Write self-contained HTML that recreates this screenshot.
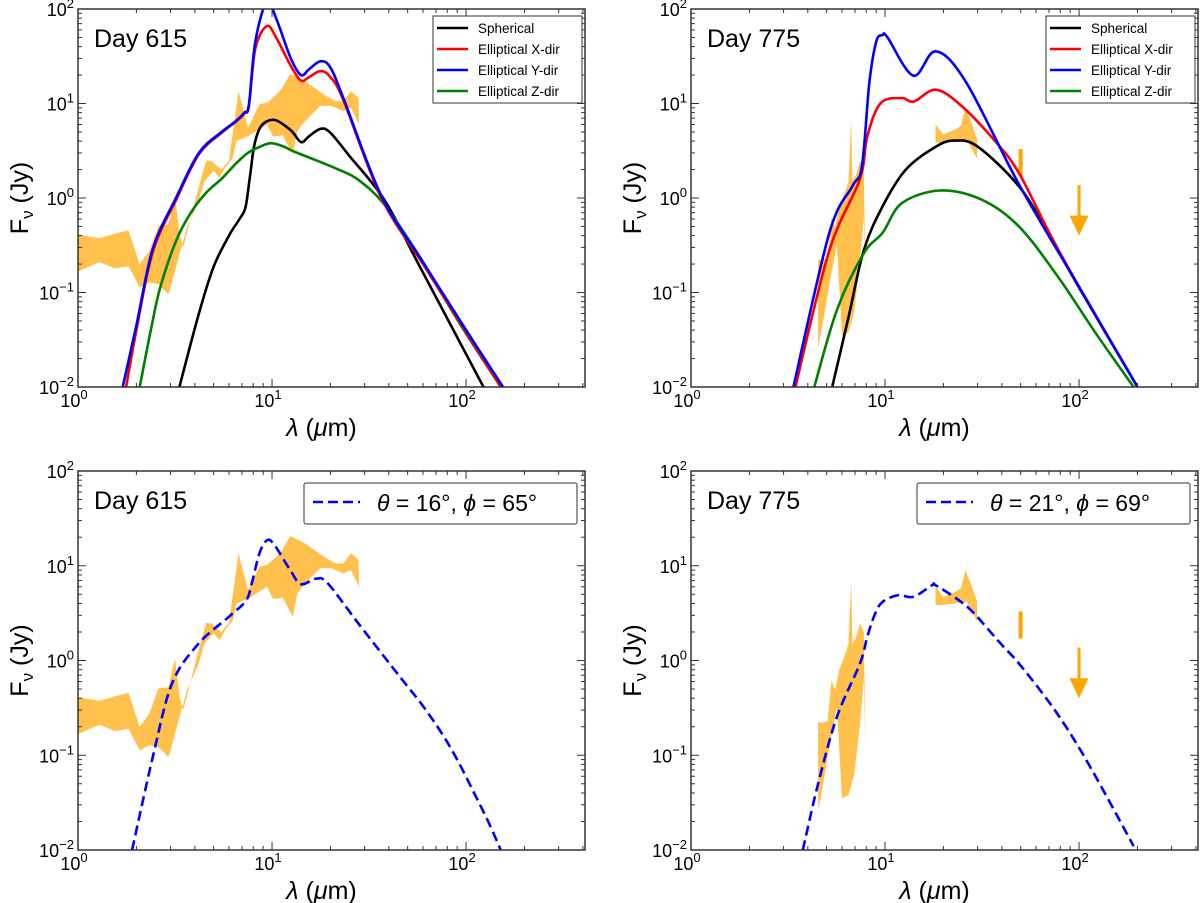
<!DOCTYPE html>
<html><head><meta charset="utf-8">
<style>
html,body{margin:0;padding:0;background:#fff;}
svg{display:block;font-family:"Liberation Sans","DejaVu Sans",sans-serif;}
</style></head>
<body>
<svg id="fig" width="1200" height="903" viewBox="0 0 1200 903" xmlns="http://www.w3.org/2000/svg"></svg>
<script>
// ---------- DATA (λ in μm, Fν in Jy) ----------
// Day 615 models
const d615SphLam  = [3.33,4.2,5.0,6.0,6.8,7.3,7.7,8.1,8.8,10.3,12.5,14.1,15.5,17.8,20,25,38,57.6,123];
const d615SphFlux = [0.01,0.06,0.187,0.4,0.6,0.8,1.7,3.6,5.8,6.7,5.2,3.9,4.5,5.4,4.9,2.8,0.95,0.19,0.01];
const d615XLam  = [1.77,2.0,2.43,3.2,4.2,5.5,6.5,7.2,7.6,8.2,9.4,10.5,12.5,14.1,15.5,17.8,20,23.3,36.6,60,100,151];
const d615XFlux = [0.01,0.04,0.27,0.95,2.9,4.9,6.4,7.8,9.5,38,66,50,25,17.5,19,22,19,10.9,1.0,0.2,0.038,0.01];
const d615YLam  = [1.7,2.0,2.43,3.2,4.2,5.5,6.5,7.2,7.6,8.2,9.4,10.5,12.5,14.1,15.5,17.8,20,23.3,36.6,60,100,155];
const d615YFlux = [0.01,0.045,0.29,1.0,3.0,5.0,6.5,8.0,9.7,45,120,80,30,20,23,28,24,11.5,1.05,0.21,0.04,0.01];
const d615ZLam  = [2.08,2.4,2.66,3.2,3.8,4.6,5.5,6.5,7.5,8.7,9.9,11.5,13,17.8,22,27.8,38,57.6,91,151];
const d615ZFlux = [0.01,0.045,0.115,0.35,0.69,1.15,1.6,2.3,3.0,3.5,3.8,3.5,3.1,2.4,2.0,1.56,0.85,0.24,0.05,0.01];
// Day 615 observed band (upper edge then lower edge back)
const band615Lam  = [1.0,1.29,1.55,1.82,2.08,2.33,2.6,2.92,3.16,3.34,3.49,4.19,4.58,4.9,5.48,6.0,6.72,7.52,8.61,9.43,10.3,11.3,12.4,14.8,18.6,21.2,23.3,25.5,27.9,28.1,
                     25.5,23.3,20.3,17.7,14.8,13.5,12.8,11.3,11.0,10.7,10.1,9.43,7.52,6.57,6.28,5.74,5.36,5.01,4.48,4.19,3.65,3.34,3.0,2.92,2.6,2.33,2.08,1.82,1.55,1.29,1.0];
const band615Flux = [0.41,0.375,0.42,0.455,0.2,0.275,0.51,0.52,1.05,0.41,0.3,1.29,2.5,2.45,2.0,2.5,13.5,5.5,9.8,10.2,11.9,14.6,20.6,17.2,12.4,10.6,10.6,13.5,11.5,6.0,
                     9.0,8.3,9.4,9.4,6.5,5.1,2.9,4.7,4.5,4.5,4.5,6.0,4.5,4.0,2.67,2.1,1.64,1.93,1.51,0.93,0.49,0.254,0.113,0.096,0.122,0.128,0.113,0.19,0.18,0.21,0.167];
// Day 615 best-fit
const fit615Lam  = [1.9,2.43,3.05,4.19,6.0,7.35,7.86,8.61,9.43,10.3,12.4,14.1,16.9,19.4,27.9,45.7,60,75,90,110,130,151];
const fit615Flux = [0.01,0.096,0.57,1.51,2.9,4.3,6.5,13.5,18.6,16.5,9.0,6.4,7.3,6.5,2.45,0.67,0.33,0.17,0.09,0.04,0.02,0.01];

// Day 775 models
const d775SphLam  = [5.34,6.5,7.77,9.73,12.8,18.3,22.9,30,49,70.6,102,200];
const d775SphFlux = [0.01,0.056,0.28,0.82,2.0,3.5,4.05,3.5,1.33,0.4,0.105,0.01];
const d775XLam  = [3.45,5.17,7.4,8.1,9.5,12.2,14.1,18.3,25,37.7,49,70.6,102,200];
const d775XFlux = [0.01,0.28,1.56,4.5,10.1,11.4,10.5,14,9.3,3.8,1.84,0.42,0.107,0.01];
const d775YLam  = [3.37,5.17,6.78,7.6,8.3,9.0,9.7,10.3,14,18.3,26.3,49,102,200];
const d775YFlux = [0.01,0.43,1.33,2.16,16.5,45,53,50,19.7,35.7,16.5,1.4,0.107,0.01];
const d775ZLam  = [4.32,5.66,7.77,9.73,12.2,19.2,31.5,49,77.6,122,191];
const d775ZFlux = [0.01,0.066,0.26,0.43,0.88,1.2,0.96,0.5,0.148,0.037,0.01];
// Day 775 observed bands
const band775aLam  = [4.52,4.73,5.06,5.3,5.53,5.79,6.06,6.34,6.48,6.69,6.8,7.1,7.43,7.77,7.94,7.77,7.43,6.94,6.48,6.0,5.65,5.17,4.87,4.52];
const band775aFlux = [0.225,0.22,0.23,0.62,0.49,0.79,1.0,1.29,1.51,6.8,1.5,1.78,2.46,2.0,0.108,0.62,0.216,0.062,0.038,0.035,0.32,0.123,0.059,0.026];
const band775bLam  = [18.2,20,23,24.6,26,28.1,29.8,29.8,26.3,23,20,18.2];
const band775bFlux = [6.0,4.7,5.3,5.8,9.0,6.0,4.2,2.6,4.2,4.0,3.85,3.85];
const errBarLam = [50];
const errBarLo  = [1.7];
const errBarHi  = [3.3];
const upperLimLam  = [100];
const upperLimFlux = [1.37];
const upperLimTip  = [0.4];
// Day 775 best-fit
const fit775Lam  = [3.77,4.52,5.65,7.43,8.1,8.9,9.73,11.7,14,17.5,18.2,24,28.8,39.4,49,71,97,133,191];
const fit775Flux = [0.01,0.05,0.254,0.93,1.78,3.13,4.17,4.9,4.7,6.25,6.25,4.33,3.13,1.51,0.93,0.35,0.133,0.043,0.011];

// axis tick labels
const xTickExp = [0,1,2];
const yTickExp = [-2,-1,0,1,2];
const xMaxLog = 2.613;

// ---------- DRAWING ----------
const NS = "http://www.w3.org/2000/svg";
const svg = document.getElementById('fig');
function el(tag, parent){ const e=document.createElementNS(NS,tag); (parent||svg).appendChild(e); return e; }
function setA(e, o){ for(const k in o) e.setAttribute(k,o[k]); return e; }

const panels = [
  {x0:78,x1:585,y0:9,y1:387,name:'day615-models'},
  {x0:691,x1:1198,y0:9,y1:387,name:'day775-models'},
  {x0:78,x1:585,y0:471,y1:850,name:'day615-fit'},
  {x0:691,x1:1198,y0:471,y1:850,name:'day775-fit'}
];
panels.forEach((p,i)=>{
  p.sx = v => p.x0 + Math.log10(v)/xMaxLog*(p.x1-p.x0);
  p.sy = v => p.y1 - (Math.log10(v)+2)/4*(p.y1-p.y0);
  p.clip = 'clip'+i;
});

const defs = el('defs');
panels.forEach(p=>{
  const cp = el('clipPath',defs); cp.setAttribute('id',p.clip);
  const r = el('rect',cp); setA(r,{x:p.x0,y:p.y0,width:p.x1-p.x0,height:p.y1-p.y0});
});

function smoothPath(P){
  let d = 'M'+P[0][0].toFixed(1)+','+P[0][1].toFixed(1);
  for(let i=0;i<P.length-1;i++){
    const p0=P[Math.max(0,i-1)], p1=P[i], p2=P[i+1], p3=P[Math.min(P.length-1,i+2)];
    const t=1/6;
    const c1=[p1[0]+(p2[0]-p0[0])*t, p1[1]+(p2[1]-p0[1])*t];
    const c2=[p2[0]-(p3[0]-p1[0])*t, p2[1]-(p3[1]-p1[1])*t];
    d+=' C'+c1[0].toFixed(1)+','+c1[1].toFixed(1)+' '+c2[0].toFixed(1)+','+c2[1].toFixed(1)+' '+p2[0].toFixed(1)+','+p2[1].toFixed(1);
  }
  return d;
}
function drawLine(p, lam, flux, color, name, dash){
  const P = lam.map((l,i)=>[p.sx(l), p.sy(flux[i])]);
  const pl = el('path');
  setA(pl,{d:smoothPath(P),fill:'none',stroke:color,'stroke-width':2.6,'stroke-linejoin':'round','clip-path':'url(#'+p.clip+')'});
  if(dash) pl.setAttribute('stroke-dasharray',dash);
  
  
}
function drawBand(p, lam, flux, name){
  const pts = lam.map((l,i)=>p.sx(l).toFixed(1)+','+p.sy(flux[i]).toFixed(1)).join(' ');
  const pg = el('polygon');
  setA(pg,{points:pts,fill:'#ffa500','fill-opacity':0.7,stroke:'none','clip-path':'url(#'+p.clip+')'});
  
  
}
function drawLimits(p){
  errBarLam.forEach((l,i)=>{
    const r = el('rect');
    setA(r,{x:p.sx(l)-2,y:p.sy(errBarHi[i]),width:4,height:p.sy(errBarLo[i])-p.sy(errBarHi[i]),fill:'#ffa500'});
    
    
  });
  upperLimLam.forEach((l,i)=>{
    const x = p.sx(l), yt = p.sy(upperLimFlux[i]), yb = p.sy(upperLimTip[i]);
    const ln = el('line');
    setA(ln,{x1:x,y1:yt,x2:x,y2:yb-16,stroke:'#ffa500','stroke-width':3});
    
    
    const hd = el('polygon');
    setA(hd,{points:(x-9.5)+','+(yb-20)+' '+(x+9.5)+','+(yb-20)+' '+x+','+yb,fill:'#ffa500'});
    
    
  });
}

function drawAxes(p){
  const g = el('g');
  
  
  const tk = (x1,y1,x2,y2)=>{ const l=el('line',g); setA(l,{x1,y1,x2,y2,stroke:'#333','stroke-width':1}); };
  for(let d=0; d<=2; d++){
    for(let m=1;m<=9;m++){
      const v = m*Math.pow(10,d); if(Math.log10(v)>xMaxLog) break;
      const x = p.sx(v); const L = m===1?8:4;
      if(m===1 && d===0) continue;
      tk(x,p.y1,x,p.y1-L); tk(x,p.y0,x,p.y0+L);
    }
  }
  for(let d=-2; d<2; d++){
    for(let m=1;m<=9;m++){
      const v = m*Math.pow(10,d); const y=p.sy(v); const L = m===1?8:4;
      if(m===1 && d===-2) continue;
      tk(p.x0,y,p.x0+L,y); tk(p.x1,y,p.x1-L,y);
    }
  }
  const fr = el('rect',g);
  setA(fr,{x:p.x0,y:p.y0,width:p.x1-p.x0,height:p.y1-p.y0,fill:'none',stroke:'#333','stroke-width':1.5});
  xTickExp.forEach(e=>{
    const t = el('text',g);
    setA(t,{x:p.sx(Math.pow(10,e))-4,y:p.y1+20,'text-anchor':'middle','font-size':18,fill:'#000'});
    
    
    t.textContent='10';
    const s = el('tspan',t); setA(s,{dy:-8,'font-size':13}); s.textContent=String(e);
  });
  yTickExp.forEach(e=>{
    const t = el('text',g);
    const sup = e<0 ? '\u2212'+(-e) : String(e);
    setA(t,{x:p.x0-4,y:p.sy(Math.pow(10,e))+7,'text-anchor':'end','font-size':18,fill:'#000'});
    
    
    t.textContent='10';
    const s = el('tspan',t); setA(s,{dy:-8,'font-size':13}); s.textContent=sup;
  });
  const xt = el('text',g);
  setA(xt,{x:(p.x0+p.x1)/2-10,y:p.y1+49,'text-anchor':'middle','font-size':25,fill:'#000'});
  
  
  xt.innerHTML = '<tspan font-style="italic">λ</tspan> (<tspan font-style="italic">μ</tspan>m)';
  const cy = (p.y0+p.y1)/2;
  const yt = el('text',g);
  setA(yt,{x:p.x0-50,y:cy,'text-anchor':'middle','font-size':25,fill:'#000',transform:'rotate(-90 '+(p.x0-50)+' '+cy+')'});
  
  
  yt.innerHTML = 'F<tspan font-size="17" dy="5">ν</tspan><tspan dy="-5"> (Jy)</tspan>';
}

function dayLabel(p, txt){
  const t = el('text');
  setA(t,{x:p.x0+16,y:p.y0+38,'font-size':25,fill:'#000'});
  
  
  t.textContent = txt;
}

function modelLegend(p){
  const g = el('g');
  
  
  const bx = p.x1-152, by = p.y0+7;
  const r = el('rect',g); setA(r,{x:bx,y:by,width:149,height:87,fill:'#fff',stroke:'#333','stroke-width':1});
  const items = [['Spherical','#000'],['Elliptical X-dir','#ff0000'],['Elliptical Y-dir','#0000ff'],['Elliptical Z-dir','#008000']];
  items.forEach((it,i)=>{
    const y = by+12+i*21;
    const l = el('line',g); setA(l,{x1:bx+4,y1:y,x2:bx+35,y2:y,stroke:it[1],'stroke-width':2.6});
    const t = el('text',g); setA(t,{x:bx+45,y:y+5,'font-size':13.5,fill:'#000'});
    
    
    t.textContent = it[0];
  });
}
function fitLegend(p, th, ph){
  const g = el('g');
  
  
  const bx = p.x0+226, by = p.y0+12;
  const r = el('rect',g); setA(r,{x:bx,y:by,width:273,height:41,rx:2,fill:'#fff',stroke:'#333','stroke-width':1});
  const l = el('line',g); setA(l,{x1:bx+9,y1:by+19,x2:bx+56,y2:by+19,stroke:'#0000ff','stroke-width':2.6,'stroke-dasharray':'10,5'});
  const t = el('text',g); setA(t,{x:bx+73,y:by+28,'font-size':23,fill:'#000'});
  
  
  t.innerHTML = '<tspan font-style="italic">θ</tspan> = '+th+'°, <tspan font-style="italic">ϕ</tspan> = '+ph+'°';
}

let p = panels[0];
drawBand(p, band615Lam, band615Flux, 'observed-band-day615');
drawLine(p, d615SphLam, d615SphFlux, '#000000', 'spherical-line');
drawLine(p, d615ZLam, d615ZFlux, '#008000', 'elliptical-z-line');
drawLine(p, d615XLam, d615XFlux, '#ff0000', 'elliptical-x-line');
drawLine(p, d615YLam, d615YFlux, '#0000ff', 'elliptical-y-line');
drawAxes(p); dayLabel(p,'Day 615'); modelLegend(p);

p = panels[1];
drawBand(p, band775aLam, band775aFlux, 'observed-band-day775-short');
drawBand(p, band775bLam, band775bFlux, 'observed-band-day775-long');
drawLimits(p);
drawLine(p, d775SphLam, d775SphFlux, '#000000', 'spherical-line');
drawLine(p, d775ZLam, d775ZFlux, '#008000', 'elliptical-z-line');
drawLine(p, d775XLam, d775XFlux, '#ff0000', 'elliptical-x-line');
drawLine(p, d775YLam, d775YFlux, '#0000ff', 'elliptical-y-line');
drawAxes(p); dayLabel(p,'Day 775'); modelLegend(p);

p = panels[2];
drawBand(p, band615Lam, band615Flux, 'observed-band-day615');
drawLine(p, fit615Lam, fit615Flux, '#0000ff', 'best-fit-dashed-line', '10,5');
drawAxes(p); dayLabel(p,'Day 615'); fitLegend(p,16,65);

p = panels[3];
drawBand(p, band775aLam, band775aFlux, 'observed-band-day775-short');
drawBand(p, band775bLam, band775bFlux, 'observed-band-day775-long');
drawLimits(p);
drawLine(p, fit775Lam, fit775Flux, '#0000ff', 'best-fit-dashed-line', '10,5');
drawAxes(p); dayLabel(p,'Day 775'); fitLegend(p,21,69);
</script>
</body></html>
